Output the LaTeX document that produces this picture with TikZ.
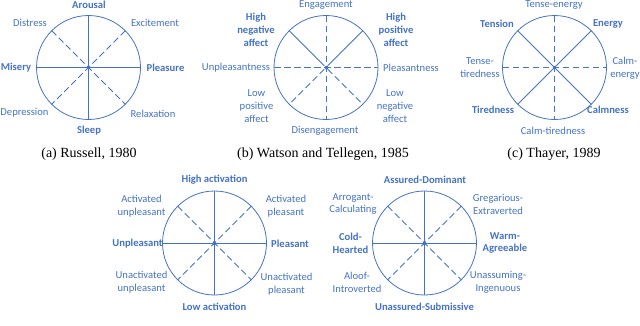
\documentclass[tikz,border=0pt]{standalone}
\usepackage{fontspec}
\setmainfont{Carlito}
\newfontfamily\capfont{Liberation Serif}
\definecolor{cblue}{HTML}{4472C4}
\begin{document}
\begin{tikzpicture}[x=1pt,y=-1pt,
  wheel/.style={circle,draw=cblue,line width=0.8pt,minimum size=104pt,inner sep=0pt,outer sep=0pt},
  hub/.style={rectangle,fill=cblue,minimum size=3pt,inner sep=0pt},
  axis/.style={draw=cblue,line width=1pt},
  daxis/.style={draw=cblue,line width=1pt,dash pattern=on 6.5pt off 3.5pt},
  lab/.style={text=cblue,font=\fontsize{10.6}{12.8}\selectfont,align=center,inner sep=0pt},
  blab/.style={lab,font=\fontsize{10.6}{12.8}\selectfont\bfseries},
  captext/.style={font=\capfont\fontsize{14}{16}\selectfont,inner sep=0pt}]
\useasboundingbox (0,0) rectangle (640,325);
% ---------- (a) Russell
\node[wheel] (ca) at (88.5,67.5) {};
\node[hub] (ha) at (ca.center) {};
\draw[axis] (ca.north) -- (ca.south);
\draw[axis] (ca.west) -- (ca.east);
\draw[daxis] (ca.north west) -- (ca.south east);
\draw[daxis] (ca.north east) -- (ca.south west);
\node[blab] (a1) at (89,5) {Arousal};
\node[blab] (a2) at (89,131) {Sleep};
\node[blab] (a3) at (16,68) {Misery};
\node[blab] (a4) at (165.5,68) {Pleasure};
\node[lab] (a5) at (30,22.5) {Distress};
\node[lab] (a6) at (155,23) {Excitement};
\node[lab] (a7) at (24.5,113) {Depression};
\node[lab] (a8) at (153,114) {Relaxation};
\node[captext] (capa) at (89,154) {(a) Russell, 1980};
% ---------- (b) Watson and Tellegen
\node[wheel] (cb) at (326,67.5) {};
\node[hub] (hb) at (cb.center) {};
\draw[daxis] (cb.north) -- (cb.south);
\draw[daxis] (cb.west) -- (cb.east);
\draw[axis] (cb.north west) -- (hb);
\draw[axis] (cb.north east) -- (hb);
\draw[daxis] (hb) -- (cb.south west);
\draw[daxis] (hb) -- (cb.south east);
\node[lab] (b1) at (326,5) {Engagement};
\node[lab] (b2) at (325,131) {Disengagement};
\node[lab] (b3) at (236,68) {Unpleasantness};
\node[lab] (b4) at (411,68) {Pleasantness};
\node[blab] (b5) at (256,30) {High\\negative\\affect};
\node[blab] (b6) at (396,30) {High\\positive\\affect};
\node[lab] (b7) at (256.5,106) {Low\\positive\\affect};
\node[lab] (b8) at (395,106) {Low\\negative\\affect};
\node[captext] (capb) at (323,154) {(b) Watson and Tellegen, 1985};
% ---------- (c) Thayer
\node[wheel] (cc) at (554.5,67.5) {};
\node[hub] (hc) at (cc.center) {};
\draw[daxis] (cc.north) -- (cc.south);
\draw[daxis] (cc.west) -- (cc.east);
\draw[axis] (cc.north west) -- (cc.south east);
\draw[axis] (cc.north east) -- (cc.south west);
\node[lab] (c1) at (554,5) {Tense-energy};
\node[lab] (c2) at (553,131) {Calm-tiredness};
\node[blab] (c3) at (497,24) {Tension};
\node[blab] (c4) at (608,24) {Energy};
\node[blab] (c5) at (493,110) {Tiredness};
\node[blab] (c6) at (608,110) {Calmness};
\node[lab] (c7) at (480,68) {Tense-\\tiredness};
\node[lab] (c8) at (625,68) {Calm-\\energy};
\node[captext] (capc) at (554,154) {(c) Thayer, 1989};
% ---------- (d)
\node[wheel] (cd) at (214.5,243) {};
\node[hub] (hd) at (cd.center) {};
\draw[axis] (cd.north) -- (cd.south);
\draw[axis] (cd.west) -- (cd.east);
\draw[daxis] (cd.north west) -- (cd.south east);
\draw[daxis] (cd.north east) -- (cd.south west);
\node[blab] (d1) at (214.5,180) {High activation};
\node[blab] (d2) at (214.5,306.5) {Low activation};
\node[blab] (d3) at (137.5,243.5) {Unpleasant};
\node[blab] (d4) at (290,244) {Pleasant};
\node[lab] (d5) at (141.5,206.5) {Activated\\unpleasant};
\node[lab] (d6) at (286,206.5) {Activated\\pleasant};
\node[lab] (d7) at (141.5,282.5) {Unactivated\\unpleasant};
\node[lab] (d8) at (286.5,284) {Unactivated\\pleasant};
% ---------- (e)
\node[wheel] (ce) at (424.5,243) {};
\node[hub] (he) at (ce.center) {};
\draw[axis] (ce.north) -- (ce.south);
\draw[axis] (ce.west) -- (ce.east);
\draw[daxis] (ce.north west) -- (ce.south east);
\draw[daxis] (ce.north east) -- (ce.south west);
\node[blab] (e1) at (425,180) {Assured-Dominant};
\node[blab] (e2) at (424.5,306.5) {Unassured-Submissive};
\node[blab] (e3) at (350.5,243) {Cold-\\Hearted};
\node[blab] (e4) at (505,243) {Warm-\\Agreeable};
\node[lab] (e5) at (353,204) {Arrogant-\\Calculating};
\node[lab] (e6) at (498,204) {Gregarious-\\Extraverted};
\node[lab] (e7) at (357,282.5) {Aloof-\\Introverted};
\node[lab] (e8) at (498,282.5) {Unassuming-\\Ingenuous};
\end{tikzpicture}
\end{document}
